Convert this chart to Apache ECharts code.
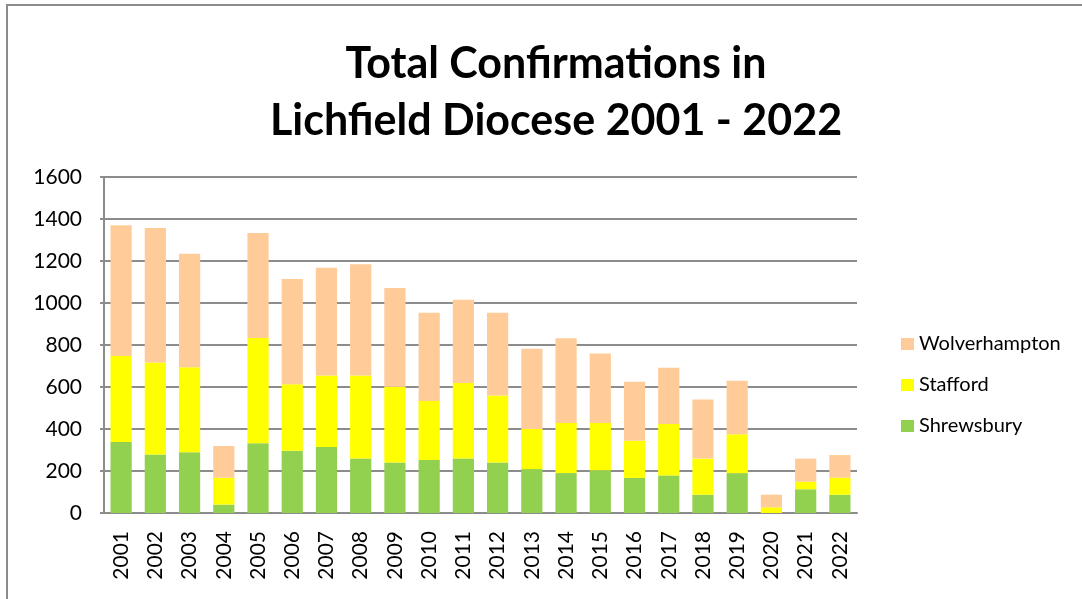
<!DOCTYPE html>
<html>
<head>
<meta charset="utf-8">
<script src="https://cdn.jsdelivr.net/npm/echarts@6/dist/echarts.min.js"></script>
<style>
  html, body { margin: 0; padding: 0; background: #fff; }
  #main { width: 1082px; height: 599px; }
</style>
</head>
<body>
<div id="main"></div>
<script>
// years on the x axis
const years = ['2001', '2002', '2003', '2004', '2005', '2006', '2007', '2008', '2009', '2010', '2011',
  '2012', '2013', '2014', '2015', '2016', '2017', '2018', '2019', '2020', '2021', '2022'];

// confirmations per area
const shrewsbury = [338, 278, 289, 40, 332, 297, 314, 259, 240, 252, 259, 240, 209, 190, 203, 167, 179, 87, 190, 0, 113, 87];
const stafford = [410, 439, 405, 128, 501, 316, 341, 396, 361, 281, 360, 319, 191, 238, 225, 177, 245, 172, 185, 27, 36, 81];
const wolverhampton = [622, 640, 541, 151, 500, 501, 513, 530, 470, 421, 397, 395, 382, 404, 331, 281, 268, 281, 255, 60, 110, 108];

const yTicks = [0, 200, 400, 600, 800, 1000, 1200, 1400, 1600];

const chart = echarts.init(document.getElementById('main'));

const FONT = 'Lato';
const GREY = '#8c8c8c';

const mkSeries = (name, data, color) => ({
  name: name,
  type: 'bar',
  stack: 'total',
  data: data,
  barCategoryGap: '38%',
  itemStyle: { color: color },
  emphasis: { disabled: true }
});

const option = {
  animation: false,
  backgroundColor: '#fff',
  textStyle: { fontFamily: FONT },
  title: {
    text: 'Total Confirmations in\nLichfield Diocese 2001 - 2022',
    left: 551,
    top: 31,
    textAlign: 'center',
    textStyle: {
      fontFamily: FONT,
      fontSize: 43,
      fontWeight: 'bold',
      color: '#000',
      lineHeight: 57
    }
  },
  legend: {
    orient: 'vertical',
    left: 896,
    top: 329,
    itemWidth: 13,
    itemHeight: 12,
    itemGap: 21,
    itemStyle: { borderWidth: 0 },
    icon: 'rect',
    data: ['Wolverhampton', 'Stafford', 'Shrewsbury'],
    textStyle: { fontFamily: FONT, fontSize: 20, color: '#000' }
  },
  grid: {
    left: 104,
    top: 177,
    width: 753,
    height: 336,
    containLabel: false
  },
  xAxis: {
    type: 'category',
    data: years,
    axisLine: { lineStyle: { color: GREY, width: 2 } },
    axisTick: { show: false },
    axisLabel: {
      rotate: 90,
      margin: 18,
      fontFamily: FONT,
      fontSize: 21,
      color: '#000'
    }
  },
  yAxis: {
    type: 'value',
    min: yTicks[0],
    max: yTicks[yTicks.length - 1],
    interval: 200,
    axisLine: { show: true, lineStyle: { color: GREY, width: 2 } },
    axisTick: { show: true, length: 4, lineStyle: { color: GREY, width: 2 } },
    axisLabel: {
      margin: 22,
      fontFamily: FONT,
      fontSize: 21,
      color: '#000',
      formatter: (v) => String(v)
    },
    splitLine: { show: true, lineStyle: { color: GREY, width: 2 } }
  },
  graphic: [
    {
      type: 'polyline',
      shape: { points: [[7, 610], [7, 5], [1090, 5]] },
      style: { stroke: GREY, lineWidth: 2, fill: null },
      silent: true
    }
  ],
  series: [
    mkSeries('Shrewsbury', shrewsbury, '#92D050'),
    mkSeries('Stafford', stafford, '#FFFF00'),
    mkSeries('Wolverhampton', wolverhampton, '#FFCC99')
  ]
};

chart.setOption(option);
</script>
</body>
</html>
